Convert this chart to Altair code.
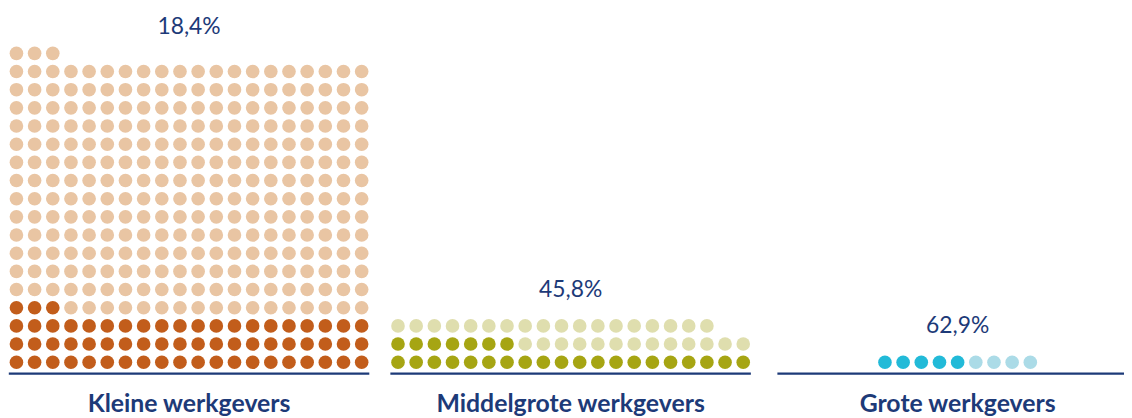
import altair as alt
import pandas as pd

# ---- data ----
groups = ["Kleine werkgevers", "Middelgrote werkgevers", "Grote werkgevers"]
percent_labels = ["18,4%", "45,8%", "62,9%"]
dark_counts = [63, 27, 5]        # filled (dark) dots per group
total_counts = [343, 58, 9]      # all dots per group
row_widths = [20, 20, 9]         # dots per row in each group

# ---- styling / layout (not data) ----
dark_colors = ["#c25d1b", "#a6a513", "#22bad8"]
light_colors = ["#e9c5a3", "#dfdeae", "#abdbe7"]
navy = "#1d3a78"
GRID_COLS = 20
PANEL_START = [0, 21, 42.3]
W, H = 1124, 410

rows = []
for g, name in enumerate(groups):
    cols = row_widths[g]
    shift = PANEL_START[g] + (GRID_COLS - cols) / 2
    for i in range(total_counts[g]):
        rows.append({
            "groep": name,
            "x": shift + i % cols,
            "y": i // cols,
            "kleur": dark_colors[g] if i < dark_counts[g] else light_colors[g],
        })
dots = pd.DataFrame(rows)

panels = []
for g, name in enumerate(groups):
    top = (total_counts[g] - 1) // row_widths[g]
    panels.append({
        "groep": name,
        "pct": percent_labels[g],
        "xc": PANEL_START[g] + (GRID_COLS - 1) / 2,
        "x0": PANEL_START[g] - 0.42,
        "x1": PANEL_START[g] + GRID_COLS - 1 + 0.42,
        "ylab": min(top + 1.97, 18.43),
        "ybase": -0.623,
        "ycat": -2.28,
    })
pan = pd.DataFrame(panels)

xs = alt.Scale(domain=[-8.5 / 18.3, (W - 8.5) / 18.3], nice=False, zero=False)
ys = alt.Scale(domain=[-(H - 355.3) / 18.3, 355.3 / 18.3], nice=False, zero=False)

circles = alt.Chart(dots).mark_circle(size=188, opacity=1).encode(
    x=alt.X("x:Q", scale=xs, axis=None),
    y=alt.Y("y:Q", scale=ys, axis=None),
    color=alt.Color("kleur:N", scale=None),
)

baseline = alt.Chart(pan).mark_rule(color=navy, strokeWidth=2.2).encode(
    x=alt.X("x0:Q", scale=xs, axis=None),
    x2="x1:Q",
    y=alt.Y("ybase:Q", scale=ys, axis=None),
)

pct_text = alt.Chart(pan).mark_text(
    font="Lato", fontSize=23, color=navy, baseline="middle", align="center"
).encode(
    x=alt.X("xc:Q", scale=xs, axis=None),
    y=alt.Y("ylab:Q", scale=ys, axis=None),
    text="pct:N",
)

cat_text = alt.Chart(pan).mark_text(
    font="Lato", fontSize=25, fontWeight="bold", color=navy,
    baseline="middle", align="center"
).encode(
    x=alt.X("xc:Q", scale=xs, axis=None),
    y=alt.Y("ycat:Q", scale=ys, axis=None),
    text="groep:N",
)

chart = alt.layer(circles, baseline, pct_text, cat_text).properties(
    width=W, height=H, padding=0, autosize=alt.AutoSizeParams(type="none")
).configure_view(stroke=None)

chart.save("out.html", embed_options={"renderer": "svg", "actions": False})
